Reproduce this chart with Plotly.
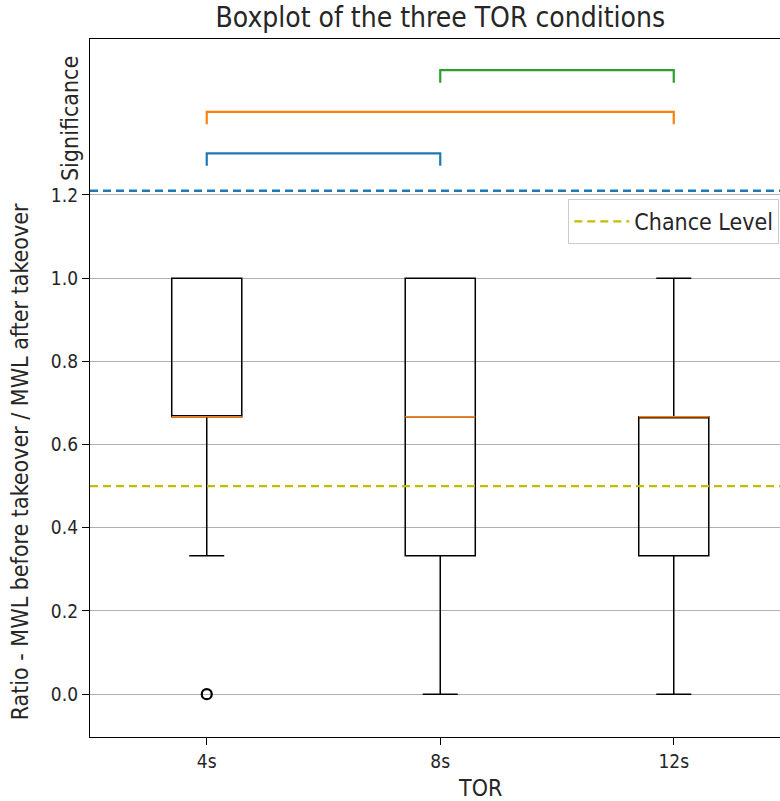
import plotly.graph_objects as go

# ---- data ----
categories = ["4s", "8s", "12s"]
positions = [1, 2, 3]
q1 = [0.667, 0.333, 0.333]
median = [0.667, 0.667, 0.667]
q3 = [1.0, 1.0, 0.667]
lower_whisker = [0.333, 0.0, 0.0]
upper_whisker = [1.0, 1.0, 1.0]
outlier_x = [1]
outlier_y = [0.0]
chance_level = 0.5
sig_line = 1.21
sig_pairs = [(1, 2), (1, 3), (2, 3)]
sig_heights = [1.3, 1.4, 1.5]
sig_colors = ["#1f77b4", "#ff7f0e", "#2ca02c"]
y_ticks = [0.0, 0.2, 0.4, 0.6, 0.8, 1.0, 1.2]

BOX_W = 0.3
FONT = "DejaVu Sans Condensed"
TICK = 19
LAB = 23
TXT = "#262626"

fig = go.Figure()

for i in range(len(categories)):
    fig.add_trace(go.Box(
        x=[positions[i]], q1=[q1[i]], median=[median[i]], q3=[q3[i]],
        lowerfence=[lower_whisker[i]], upperfence=[upper_whisker[i]],
        width=BOX_W, whiskerwidth=0.5, fillcolor="rgba(0,0,0,0)",
        line=dict(color="black", width=1.5), boxpoints=False,
        showlegend=False, hoverinfo="skip"))
    fig.add_trace(go.Scatter(
        x=[positions[i] - BOX_W / 2, positions[i] + BOX_W / 2],
        y=[median[i], median[i]], mode="lines",
        line=dict(color="#ff7f0e", width=1.5), showlegend=False, hoverinfo="skip"))

fig.add_trace(go.Scatter(
    x=outlier_x, y=outlier_y, mode="markers",
    marker=dict(symbol="circle-open", size=10, color="black", line=dict(width=2.2)),
    showlegend=False, hoverinfo="skip"))

# significance brackets
for (a, b), h, c in zip(sig_pairs, sig_heights, sig_colors):
    fig.add_trace(go.Scatter(
        x=[a, a, b, b], y=[h - 0.03, h, h, h - 0.03], mode="lines",
        line=dict(color=c, width=2.2), showlegend=False, hoverinfo="skip"))

# significance separator line
fig.add_trace(go.Scatter(
    x=[0.5, 3.5], y=[sig_line, sig_line], mode="lines",
    line=dict(color="#1f77b4", width=2.5, dash="8px,5px"), showlegend=False, hoverinfo="skip"))

# chance level
fig.add_trace(go.Scatter(
    x=[0.5, 3.5], y=[chance_level, chance_level], mode="lines",
    line=dict(color="#bfbf00", width=2.2, dash="8px,5px"), name="Chance Level",
    showlegend=True, hoverinfo="skip"))

fig.update_layout(
    width=780, height=801,
    margin=dict(l=90, r=0, t=39, b=64),
    plot_bgcolor="white", paper_bgcolor="white",
    font=dict(family=FONT, size=LAB, color=TXT),
    title=dict(text="Boxplot of the three TOR conditions", x=0.5645, xanchor="center",
               y=0.978, yanchor="middle", font=dict(size=28, family=FONT, color=TXT)),
    xaxis=dict(range=[0.5, 3.455], tickvals=positions, ticktext=categories,
               showgrid=False, zeroline=False, showline=True, linecolor="black",
               linewidth=1.3, mirror=True, ticks="outside", ticklen=7, tickcolor="black",
               tickfont=dict(size=TICK, color=TXT)),
    yaxis=dict(range=[-0.103, 1.575], tickvals=y_ticks,
               ticktext=[f"{v:.1f}" for v in y_ticks],
               showgrid=True, gridcolor="#b0b0b0", gridwidth=1.2, zeroline=False,
               showline=True, linecolor="black", linewidth=1.3,
               ticks="outside", ticklen=7, tickcolor="black",
               tickfont=dict(size=TICK, color=TXT)),
    legend=dict(x=0.999, xanchor="right", y=0.771, yanchor="top",
                bordercolor="#cccccc", borderwidth=1, bgcolor="white",
                itemwidth=55, font=dict(size=LAB, color=TXT)),
    annotations=[
        dict(text="TOR", x=0.5645, xref="paper", y=-0.073, yref="paper",
             showarrow=False, xanchor="center", yanchor="middle", font=dict(size=LAB, color=TXT)),
        dict(text="Ratio - MWL before takeover / MWL after takeover", x=-0.101, xref="paper",
             y=0.558, yref="y", yanchor="middle", xanchor="center",
             textangle=-90, showarrow=False, font=dict(size=LAB, color=TXT)),
        dict(text="Significance", x=-0.029, xref="paper", y=1.385, yref="y",
             textangle=-90, showarrow=False, xanchor="center", yanchor="middle",
             font=dict(size=LAB, color=TXT)),
    ],
)

fig.write_html("out.html", config={"displayModeBar": False},
               post_script="document.body.style.margin='0px';document.body.style.overflow='hidden';")
